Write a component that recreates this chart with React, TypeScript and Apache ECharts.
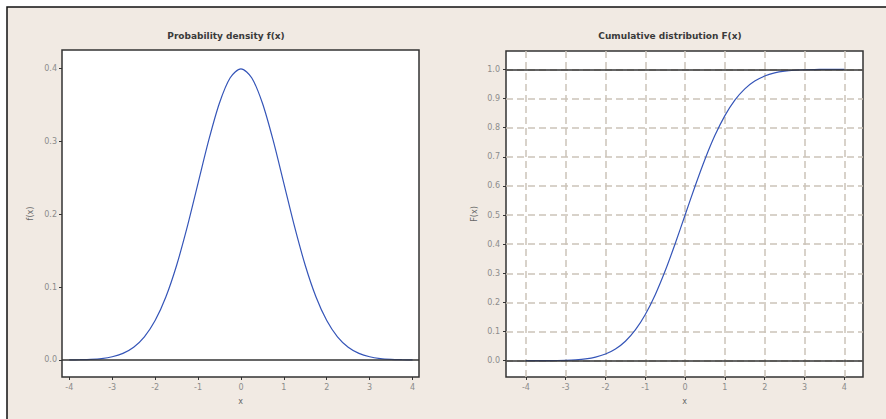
import React, { useEffect, useRef } from "react";
import * as echarts from "echarts";

const xValues = [-4, -3.75, -3.5, -3.25, -3, -2.75, -2.5, -2.25, -2, -1.75, -1.5, -1.25, -1, -0.75, -0.5, -0.25, 0, 0.25, 0.5, 0.75, 1, 1.25, 1.5, 1.75, 2, 2.25, 2.5, 2.75, 3, 3.25, 3.5, 3.75, 4];
const pdfValues = [0.0001, 0.0004, 0.0009, 0.002, 0.0044, 0.0091, 0.0175, 0.0317, 0.054, 0.0863, 0.1295, 0.1826, 0.242, 0.3011, 0.3521, 0.3867, 0.3989, 0.3867, 0.3521, 0.3011, 0.242, 0.1826, 0.1295, 0.0863, 0.054, 0.0317, 0.0175, 0.0091, 0.0044, 0.002, 0.0009, 0.0004, 0.0001];
const cdfValues = [0.0, 0.0001, 0.0002, 0.0006, 0.0013, 0.003, 0.0062, 0.0122, 0.0228, 0.0401, 0.0668, 0.1056, 0.1587, 0.2266, 0.3085, 0.4013, 0.5, 0.5987, 0.6915, 0.7734, 0.8413, 0.8944, 0.9332, 0.9599, 0.9772, 0.9878, 0.9938, 0.997, 0.9987, 0.9994, 0.9998, 0.9999, 1.0];
const xTicks = [-4, -3, -2, -1, 0, 1, 2, 3, 4];
const pdfTicks = [0, 0.1, 0.2, 0.3, 0.4];
const cdfTicks = [0, 0.1, 0.2, 0.3, 0.4, 0.5, 0.6, 0.7, 0.8, 0.9, 1.0];
const titles = ["Probability density f(x)", "Cumulative distribution F(x)"];
const yNames = ["f(x)", "F(x)"];
const xName = "x";

const FONT = "DejaVu Sans";
const LABEL_COLOR = "#8c8c8c";
const DARK = "#333333";
const CURVE = "#3555b8";
const GRID_DASH = "#cbc3b9";

export default function App() {
  const ref = useRef<HTMLDivElement>(null);
  useEffect(() => {
    if (!ref.current) return;
    const chart = echarts.init(ref.current, null, { renderer: "svg" });
    const axisLabel = (vals: number[], fmt: (v: number) => string, margin: number) => ({
      customValues: vals,
      formatter: (v: number) => fmt(v),
      color: LABEL_COLOR,
      fontSize: 8,
      fontFamily: FONT,
      margin,
    });
    const axisTick = (vals: number[]) => ({
      show: true,
      customValues: vals,
      inside: false,
      length: 3,
      lineStyle: { color: DARK, width: 1 },
    });
    const nameStyle = { color: "#666", fontSize: 8, fontFamily: FONT };
    const zeroLine = (vals: number[]) => ({
      silent: true,
      symbol: ["none", "none"],
      label: { show: false },
      lineStyle: { color: DARK, width: 1.5, type: "solid" },
      data: vals.map((v) => ({ yAxis: v })),
    });
    const titleFont = `bold 9px "${FONT}"`;
    chart.setOption({
      animation: false,
      backgroundColor: "#ffffff",
      graphic: [
        {
          type: "rect",
          z: -10,
          shape: { x: 7, y: 7, width: 900, height: 430 },
          style: { fill: "#f1eae3", stroke: "#111", lineWidth: 1.5 },
        },
        {
          type: "text",
          x: 226,
          y: 36,
          style: { text: titles[0], fill: "#3a3a3a", font: titleFont, textAlign: "center", textVerticalAlign: "middle" },
        },
        {
          type: "text",
          x: 670,
          y: 36,
          style: { text: titles[1], fill: "#3a3a3a", font: titleFont, textAlign: "center", textVerticalAlign: "middle" },
        },
      ],
      grid: [
        { left: 62, top: 50, width: 357, height: 327, show: true, backgroundColor: "#ffffff", borderColor: DARK, borderWidth: 1.5 },
        { left: 506, top: 51, width: 357, height: 326, show: true, backgroundColor: "#ffffff", borderColor: DARK, borderWidth: 1.5 },
      ],
      xAxis: [
        {
          type: "value",
          gridIndex: 0,
          min: -4.17,
          max: 4.15,
          axisLine: { show: false, onZero: false },
          axisTick: axisTick(xTicks),
          axisLabel: axisLabel(xTicks, (v) => String(v), 6),
          splitLine: { show: false },
          name: xName,
          nameLocation: "middle",
          nameGap: 20,
          nameTextStyle: nameStyle,
        },
        {
          type: "value",
          gridIndex: 1,
          min: -4.5,
          max: 4.47,
          axisLine: { show: false, onZero: false },
          axisTick: axisTick(xTicks),
          axisLabel: axisLabel(xTicks, (v) => String(v), 6),
          splitLine: { show: true, lineStyle: { color: GRID_DASH, width: 1.5, type: [7, 4] } },
          name: xName,
          nameLocation: "middle",
          nameGap: 20,
          nameTextStyle: nameStyle,
        },
      ],
      yAxis: [
        {
          type: "value",
          gridIndex: 0,
          min: -0.0233,
          max: 0.4247,
          axisLine: { show: false, onZero: false },
          axisTick: axisTick(pdfTicks),
          axisLabel: axisLabel(pdfTicks, (v) => v.toFixed(1), 5),
          splitLine: { show: false },
          name: yNames[0],
          nameLocation: "middle",
          nameGap: 28,
          nameTextStyle: nameStyle,
        },
        {
          type: "value",
          gridIndex: 1,
          min: -0.056,
          max: 1.063,
          axisLine: { show: false, onZero: false },
          axisTick: axisTick(cdfTicks),
          axisLabel: axisLabel(cdfTicks, (v) => v.toFixed(1), 6),
          splitLine: { show: true, lineStyle: { color: GRID_DASH, width: 1.5, type: [7, 4] } },
          name: yNames[1],
          nameLocation: "middle",
          nameGap: 28,
          nameTextStyle: nameStyle,
        },
      ],
      series: [
        {
          type: "line",
          xAxisIndex: 0,
          yAxisIndex: 0,
          data: xValues.map((x, i) => [x, pdfValues[i]]),
          showSymbol: false,
          smooth: 0.3,
          lineStyle: { color: CURVE, width: 1.2 },
          z: 3,
          markLine: zeroLine([0]),
        },
        {
          type: "line",
          xAxisIndex: 1,
          yAxisIndex: 1,
          data: xValues.map((x, i) => [x, cdfValues[i]]),
          showSymbol: false,
          smooth: 0.3,
          lineStyle: { color: CURVE, width: 1.2 },
          z: 3,
          markLine: zeroLine([0, 1]),
        },
      ],
    });
    return () => chart.dispose();
  }, []);
  return <div ref={ref} style={{ position: "fixed", left: 0, top: 0, width: 886, height: 419 }} />;
}
